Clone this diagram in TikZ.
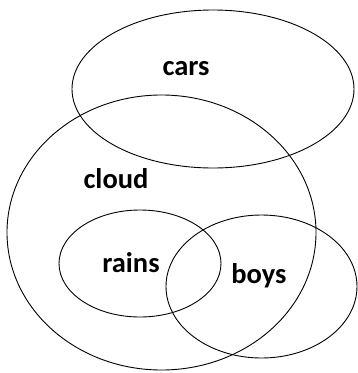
\documentclass[tikz,border=0pt]{standalone}
\usepackage{fontspec}
\setmainfont{Carlito}
\begin{document}
\begin{tikzpicture}[x=1pt,y=-1pt,line width=0.9pt,font=\bfseries\fontsize{28.5}{30}\selectfont]
\useasboundingbox (0,0) rectangle (358,373);
\draw (213,89) ellipse [x radius=141pt,y radius=79pt];
\draw (161.5,232.5) ellipse [x radius=154.5pt,y radius=137.5pt];
\draw (140,263.5) ellipse [x radius=81pt,y radius=53.5pt];
\draw (261.5,286.5) ellipse [x radius=95.5pt,y radius=71.5pt];
\node[anchor=base] (cars) at (186,75) {cars};
\node[anchor=base] (cloud) at (116,188) {cloud};
\node[anchor=base] (rains) at (131,272) {rains};
\node[anchor=base] (boys) at (259,283) {boys};
\end{tikzpicture}
\end{document}
